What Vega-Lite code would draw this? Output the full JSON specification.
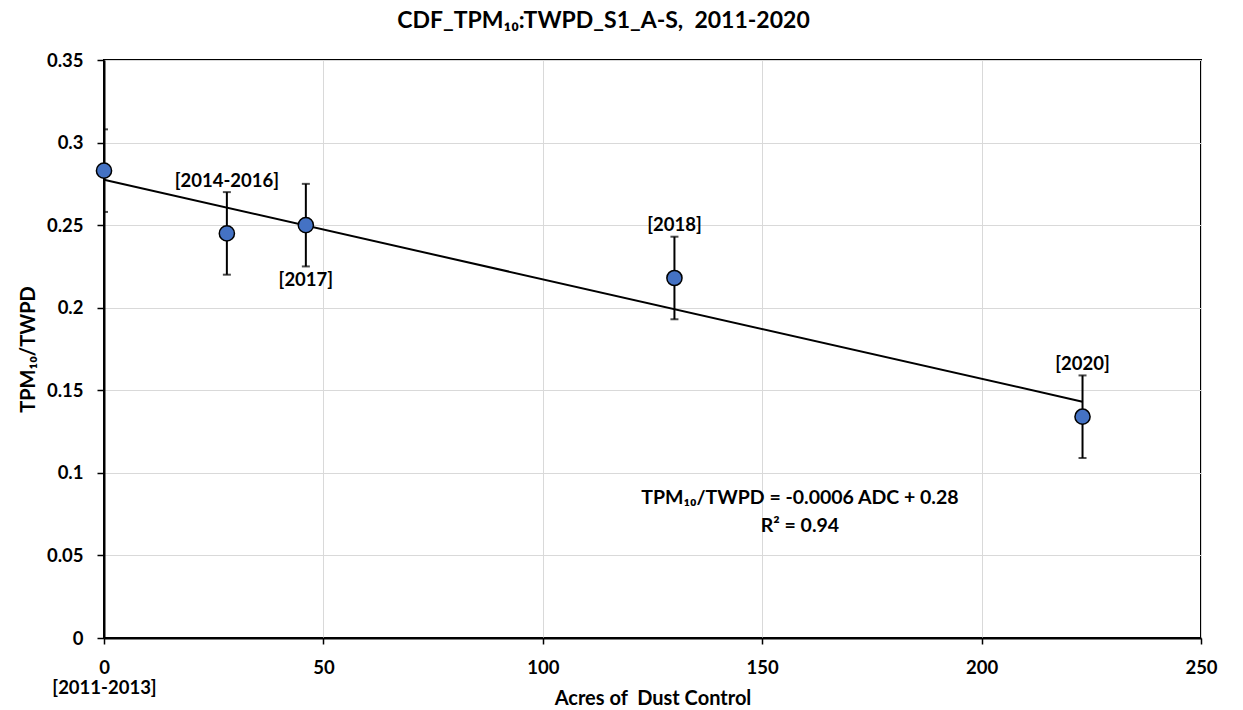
{
  "$schema": "https://vega.github.io/schema/vega-lite/v6.json",
  "width": 1097,
  "height": 578,
  "autosize": "none",
  "padding": {"left": 104, "top": 60, "right": 42, "bottom": 72},
  "background": "white",
  "title": {
    "text": "CDF_TPM₁₀:TWPD_S1_A-S,\u00a0 2011-2020",
    "font": "Lato", "fontSize": 23, "fontWeight": "bold", "color": "#000",
    "anchor": "middle", "dx": -49, "offset": 18
  },
  "config": {
    "view": {"stroke": "#000", "strokeWidth": 2},
    "font": "Lato",
    "axis": {
      "grid": true, "gridColor": "#d9d9d9", "gridWidth": 1,
      "domainColor": "#000", "domainWidth": 2,
      "tickColor": "#000", "tickWidth": 1.5, "tickSize": 7,
      "labelFont": "Lato", "labelFontSize": 18.5, "labelFontWeight": "bold", "labelColor": "#000",
      "titleFont": "Lato", "titleFontSize": 20, "titleFontWeight": "bold", "titleColor": "#000"
    }
  },
  "datasets": {
    "pts": [
      {"x": 0, "y": 0.283, "ylo": 0.258, "yhi": 0.308},
      {"x": 28, "y": 0.245, "ylo": 0.220, "yhi": 0.270},
      {"x": 46, "y": 0.250, "ylo": 0.225, "yhi": 0.275},
      {"x": 130, "y": 0.218, "ylo": 0.193, "yhi": 0.243},
      {"x": 223, "y": 0.134, "ylo": 0.109, "yhi": 0.159}
    ],
    "labels": [
      {"x": 28, "y": 0.2767, "text": "[2014-2016]"},
      {"x": 46, "y": 0.2168, "text": "[2017]"},
      {"x": 130, "y": 0.2501, "text": "[2018]"},
      {"x": 223, "y": 0.1659, "text": "[2020]"}
    ],
    "eq": [
      {"x": 158.6, "y": 0.0848, "text": "TPM₁₀/TWPD = -0.0006 ADC + 0.28"},
      {"x": 158.6, "y": 0.0678, "text": "R² = 0.94"}
    ]
  },
  "layer": [
    {
      "data": {"name": "pts"},
      "mark": {"type": "rule", "color": "#000", "strokeWidth": 2, "clip": true},
      "encoding": {
        "x": {"field": "x", "type": "quantitative", "scale": {"domain": [0, 250], "nice": false},
          "axis": {"values": [0, 50, 100, 150, 200, 250], "tickSize": 6, "labelPadding": 14, "labelLineHeight": 20,
            "labelFlush": false,
            "labelExpr": "datum.value == 0 ? ['0', '[2011-2013]'] : datum.label",
            "titleY": 66, "titleBaseline": "alphabetic"},
          "title": "Acres of\u00a0 Dust Control"},
        "y": {"field": "ylo", "type": "quantitative", "scale": {"domain": [0, 0.35], "nice": false},
          "axis": {"values": [0, 0.05, 0.1, 0.15, 0.2, 0.25, 0.3, 0.35], "format": "~g", "labelPadding": 14, "titlePadding": 8, "labelFlush": false},
          "title": "TPM₁₀/TWPD"},
        "y2": {"field": "yhi"}
      }
    },
    {
      "data": {"name": "pts"},
      "mark": {"type": "tick", "orient": "horizontal", "color": "#000", "size": 8, "thickness": 2, "clip": true},
      "encoding": {
        "x": {"field": "x", "type": "quantitative"},
        "y": {"field": "yhi", "type": "quantitative", "title": "TPM₁₀/TWPD"}
      }
    },
    {
      "data": {"name": "pts"},
      "mark": {"type": "tick", "orient": "horizontal", "color": "#000", "size": 8, "thickness": 2, "clip": true},
      "encoding": {
        "x": {"field": "x", "type": "quantitative"},
        "y": {"field": "ylo", "type": "quantitative", "title": "TPM₁₀/TWPD"}
      }
    },
    {
      "data": {"name": "pts"},
      "transform": [{"regression": "y", "on": "x"}],
      "mark": {"type": "line", "color": "#000", "strokeWidth": 2},
      "encoding": {
        "x": {"field": "x", "type": "quantitative"},
        "y": {"field": "y", "type": "quantitative", "title": "TPM₁₀/TWPD"}
      }
    },
    {
      "data": {"name": "pts"},
      "mark": {"type": "circle", "size": 230, "fill": "#4472C4", "stroke": "#000", "strokeWidth": 1.5, "opacity": 1},
      "encoding": {
        "x": {"field": "x", "type": "quantitative"},
        "y": {"field": "y", "type": "quantitative", "title": "TPM₁₀/TWPD"}
      }
    },
    {
      "data": {"name": "labels"},
      "mark": {"type": "text", "font": "Lato", "fontSize": 18.5, "fontWeight": "bold", "color": "#000", "align": "center", "baseline": "middle"},
      "encoding": {
        "x": {"field": "x", "type": "quantitative"},
        "y": {"field": "y", "type": "quantitative", "title": "TPM₁₀/TWPD"},
        "text": {"field": "text"}
      }
    },
    {
      "data": {"name": "eq"},
      "mark": {"type": "text", "font": "Lato", "fontSize": 19.5, "fontWeight": "bold", "color": "#000", "align": "center", "baseline": "middle"},
      "encoding": {
        "x": {"field": "x", "type": "quantitative"},
        "y": {"field": "y", "type": "quantitative", "title": "TPM₁₀/TWPD"},
        "text": {"field": "text"}
      }
    }
  ]
}
